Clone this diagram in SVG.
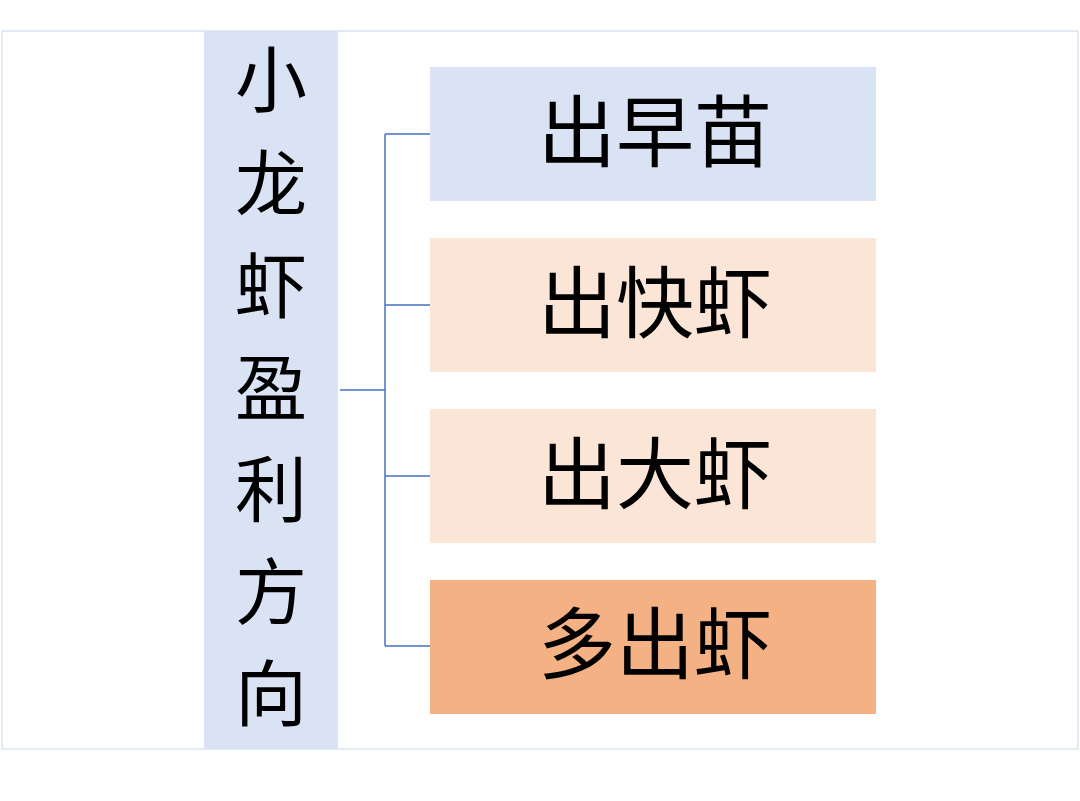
<svg xmlns="http://www.w3.org/2000/svg" width="1080" height="801" viewBox="0 0 1080 801">
<style>
text{font-family:"Noto Sans CJK SC","Noto Sans CJK JP",sans-serif;fill:#000;text-anchor:middle}
.b{font-size:78px}
.v{font-size:72px}
.c{stroke:#4472c4;stroke-width:1.5;fill:none}
</style>
<rect width="1080" height="801" fill="#fff"/>
<rect x="2" y="31" width="1076" height="718" fill="#fff" stroke="#dce3ef" stroke-width="1.5"/>
<g id="root">
<rect x="204" y="31" width="134" height="718" fill="#dae3f3"/>
<text class="v" x="271" y="106">小</text>
<text class="v" x="271" y="210">龙</text>
<text class="v" x="271" y="312">虾</text>
<text class="v" x="271" y="414">盈</text>
<text class="v" x="271" y="516">利</text>
<text class="v" x="271" y="618">方</text>
<text class="v" x="271" y="720">向</text>
</g>
<g id="connectors">
<path class="c" d="M340 390H385M385 134V646M385 134H430M385 305H430M385 476H430M385 646H430"/>
</g>
<g id="n1"><rect x="430" y="67" width="446" height="134" fill="#dae3f3"/><text class="b" x="655" y="161">出早苗</text></g>
<g id="n2"><rect x="430" y="238" width="446" height="134" fill="#fbe5d6"/><text class="b" x="655" y="332">出快虾</text></g>
<g id="n3"><rect x="430" y="409" width="446" height="134" fill="#fbe5d6"/><text class="b" x="655" y="503">出大虾</text></g>
<g id="n4"><rect x="430" y="580" width="446" height="134" fill="#f4b183"/><text class="b" x="655" y="673">多出虾</text></g>
</svg>
